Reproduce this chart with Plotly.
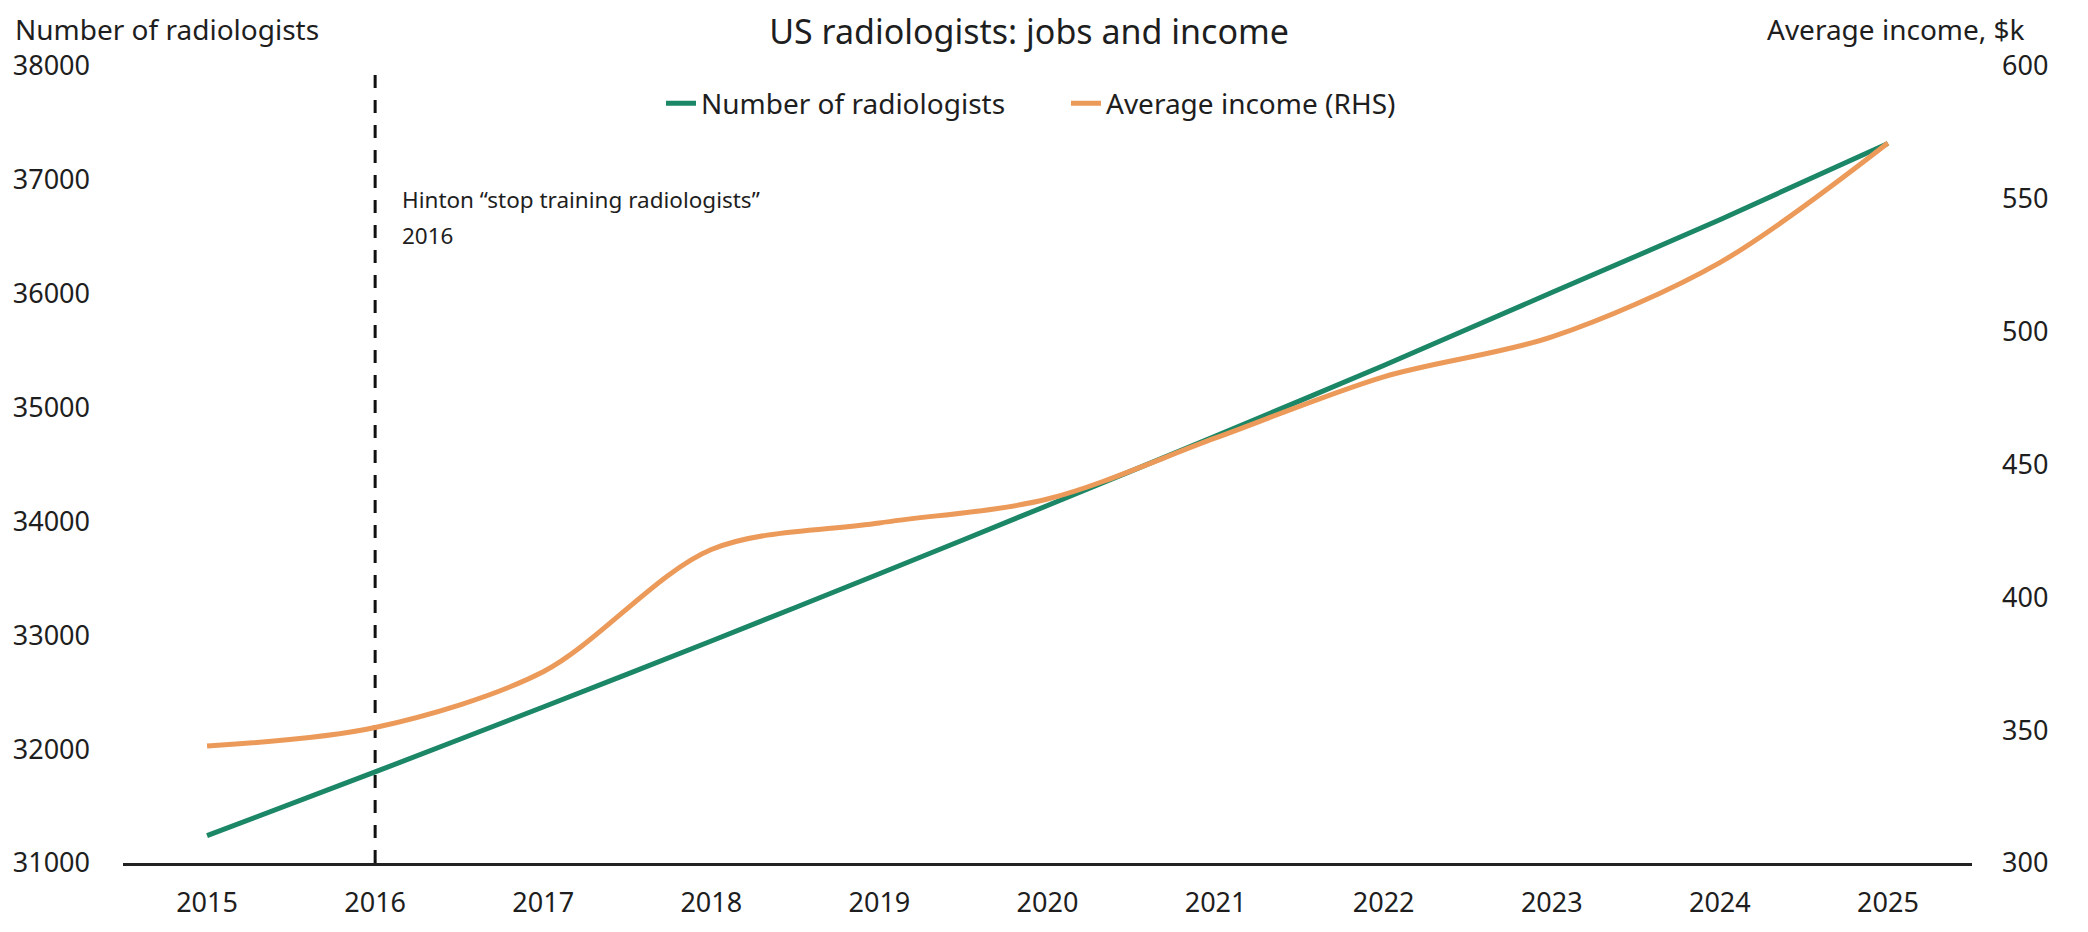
import plotly.graph_objects as go

years = [2015, 2016, 2017, 2018, 2019, 2020, 2021, 2022, 2023, 2024, 2025]
radiologists = [31240, 31800, 32370, 32950, 33540, 34140, 34750, 35370, 36010, 36650, 37320]
avg_income_k = [344, 351, 372, 418, 428, 437, 460, 483, 498, 526, 571]

left_ticks = [31000, 32000, 33000, 34000, 35000, 36000, 37000, 38000]
right_ticks = [300, 350, 400, 450, 500, 550, 600]

event_year = 2016
event_line1 = "Hinton \u201cstop training radiologists\u201d"
event_line2 = "2016"
event_line_top = 37930

GREEN = "#1b8766"
ORANGE = "#ec9a5a"
TEXT = "#1e1e1e"
FONT = "Noto Sans"

fig = go.Figure()
fig.add_trace(go.Scatter(
    x=years, y=radiologists, name="Number of radiologists", mode="lines",
    line=dict(color=GREEN, width=5, shape="spline", smoothing=0.6), yaxis="y"))
fig.add_trace(go.Scatter(
    x=years, y=avg_income_k, name="Average income (RHS)", mode="lines",
    line=dict(color=ORANGE, width=5, shape="spline", smoothing=0.9), yaxis="y2"))

fig.add_shape(type="line", xref="x", yref="y", x0=event_year, x1=event_year,
              y0=left_ticks[0], y1=event_line_top,
              line=dict(color="#111111", width=3, dash="13px,12px"), layer="below")

fig.add_annotation(x=event_year, y=36830, xref="x", yref="y", text=event_line1,
                   showarrow=False, xanchor="left", yanchor="middle", align="left",
                   xshift=25, font=dict(family=FONT, size=22.5, color=TEXT))
fig.add_annotation(x=event_year, y=36510, xref="x", yref="y", text=event_line2,
                   showarrow=False, xanchor="left", yanchor="middle", align="left",
                   xshift=25, font=dict(family=FONT, size=22.5, color=TEXT))

fig.add_annotation(x=0, y=1, xref="paper", yref="paper", xshift=-110, yshift=37,
                   text="Number of radiologists", showarrow=False,
                   xanchor="left", yanchor="middle",
                   font=dict(family=FONT, size=28, color=TEXT))
fig.add_annotation(x=1, y=1, xref="paper", yref="paper", xshift=55, yshift=37,
                   text="Average income, $k", showarrow=False,
                   xanchor="right", yanchor="middle",
                   font=dict(family=FONT, size=28, color=TEXT))

fig.update_layout(
    width=2072, height=916,
    paper_bgcolor="white", plot_bgcolor="white",
    margin=dict(l=115, r=108, t=58, b=61),
    font=dict(family=FONT, size=27, color=TEXT),
    title=dict(text="US radiologists: jobs and income", x=0.4928, xanchor="center",
               y=0.974, yanchor="middle", font=dict(family=FONT, size=34, color=TEXT)),
    legend=dict(orientation="h", x=0.51, xanchor="center", y=0.953, yanchor="middle",
                bgcolor="rgba(0,0,0,0)", font=dict(family=FONT, size=28, color=TEXT),
                entrywidth=360, entrywidthmode="pixels", tracegroupgap=0),
    showlegend=True,
    xaxis=dict(range=[2014.5, 2025.5], tickmode="array", tickvals=years,
               ticktext=[str(y) for y in years], showgrid=False, zeroline=False,
               showline=True, linecolor="#222222", linewidth=2.5, ticks="",
               ticklabelstandoff=14, automargin=False,
               tickfont=dict(family=FONT, size=27, color=TEXT)),
    yaxis=dict(range=[left_ticks[0], left_ticks[-1]], tickvals=left_ticks,
               showgrid=False, zeroline=False, showline=False, ticks="",
               ticklabelstandoff=32, tickformat="d", automargin=False,
               tickfont=dict(family=FONT, size=27, color=TEXT)),
    yaxis2=dict(range=[right_ticks[0], right_ticks[-1]], tickvals=right_ticks,
                overlaying="y", side="right", showgrid=False, zeroline=False,
                showline=False, ticks="", ticklabelstandoff=29, automargin=False,
                tickfont=dict(family=FONT, size=27, color=TEXT)),
)

fig.write_html("out.html")
